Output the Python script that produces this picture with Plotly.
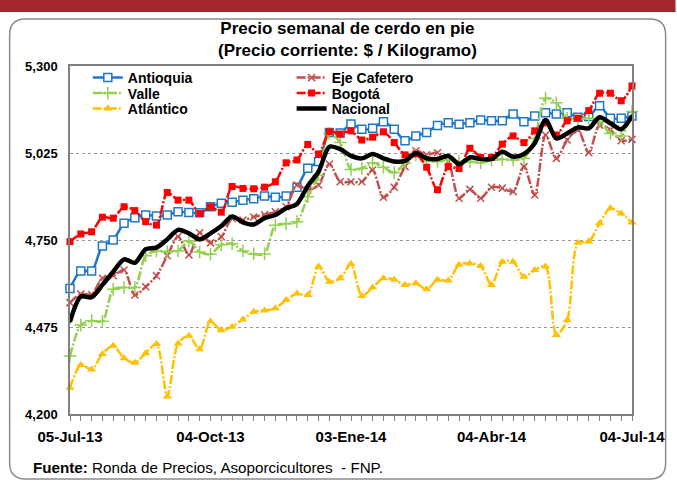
import plotly.graph_objects as go
import pandas as pd

weeks = pd.date_range("2013-07-05", periods=53, freq="7D")

antioquia = [4597, 4652, 4652, 4731, 4750, 4803, 4820, 4829, 4826, 4829, 4839, 4837, 4836, 4855,
             4866, 4869, 4876, 4880, 4889, 4885, 4889, 4917, 4977, 4998, 5090, 5088, 5117, 5100,
             5103, 5124, 5100, 5064, 5079, 5090, 5112, 5121, 5116, 5121, 5129, 5127, 5127, 5148,
             5124, 5142, 5152, 5148, 5152, 5138, 5140, 5174, 5135, 5135, 5142]
eje_cafetero = [4552, 4579, 4578, 4629, 4637, 4655, 4576, 4602, 4637, 4700, 4761, 4703, 4773, 4741,
                4760, 4818, 4813, 4823, 4830, 4839, 4855, 4924, 4908, 4924, 4990, 4934, 4934, 4934,
                4971, 4885, 4917, 4982, 5032, 5019, 5026, 4998, 4882, 4910, 4882, 4917, 4914, 4903,
                4982, 4892, 5082, 5008, 5066, 5098, 5026, 5113, 5098, 5064, 5068]
valle = [4383, 4481, 4495, 4493, 4594, 4600, 4600, 4700, 4715, 4713, 4716, 4747, 4712, 4705,
         4735, 4738, 4715, 4706, 4706, 4797, 4801, 4808, 4887, 4955, 5087, 5058, 4973, 4976,
         4994, 4980, 4963, 4994, 5019, 5000, 4998, 5003, 4998, 4998, 4994, 5003, 5005, 5003,
         5008, 5071, 5198, 5184, 5135, 5132, 5135, 5124, 5087, 5079, 5156]
bogota = [4745, 4769, 4776, 4822, 4819, 4855, 4843, 4808, 4797, 4900, 4876, 4876, 4834, 4855,
          4838, 4919, 4913, 4912, 4917, 4934, 4994, 5003, 5052, 5022, 5092, 5085, 5095, 5066,
          5075, 5092, 5058, 5019, 5022, 4980, 4909, 4982, 4976, 5040, 5011, 5011, 5053, 5079,
          5058, 5095, 5120, 5082, 5127, 5135, 5159, 5214, 5214, 5190, 5237]
atlantico = [4283, 4355, 4341, 4390, 4416, 4376, 4362, 4392, 4421, 4255, 4423, 4447, 4405, 4492,
             4465, 4476, 4499, 4523, 4527, 4534, 4560, 4581, 4576, 4666, 4618, 4629, 4674, 4573,
             4600, 4629, 4624, 4608, 4613, 4594, 4624, 4622, 4672, 4676, 4668, 4608, 4681, 4681,
             4634, 4655, 4666, 4450, 4497, 4741, 4745, 4803, 4850, 4834, 4805]
nacional = [4492, 4571, 4569, 4608, 4650, 4689, 4678, 4721, 4726, 4752, 4782, 4771, 4752, 4771,
            4794, 4824, 4806, 4799, 4819, 4829, 4850, 4864, 4921, 4966, 5045, 5037, 5016, 5008,
            5022, 5008, 4998, 5000, 5024, 5008, 5006, 5016, 4990, 5011, 5006, 5006, 5029, 5013,
            5022, 5056, 5129, 5071, 5087, 5106, 5103, 5138, 5119, 5100, 5142]

y_ticks = [4200, 4475, 4750, 5025, 5300]
x_tick_dates = ["2013-07-05", "2013-10-04", "2014-01-03", "2014-04-04", "2014-07-04"]
x_tick_labels = ["05-Jul-13", "04-Oct-13", "03-Ene-14", "04-Abr-14", "04-Jul-14"]

FONT = "Liberation Sans, Arial, sans-serif"
DASH = "9px,2px,2px,2px"
SMOOTH = 0.8

W, H = 677, 483
L, R, T, B = 70, 39, 66, 69
PW, PH = W - L - R, H - T - B


def px(xp):
    return (xp - L) / PW


def py(yp):
    return (H - B - yp) / PH


fig = go.Figure()

COL1, COL2 = 88, 294
ROWS = [62, 77.5, 93]

series = [
    dict(name="Antioquia", y=antioquia, color="#1F77C8", dash="solid", width=2.5,
         marker=dict(symbol="square", size=8, color="white", line=dict(color="#1F77C8", width=1.5)),
         legend="legend", pos=(COL1, ROWS[0])),
    dict(name="Eje Cafetero", y=eje_cafetero, color="#C0504D", dash=DASH, width=2.5,
         marker=dict(symbol="x-thin", size=7, color="#C0504D", line=dict(color="#C0504D", width=1.5)),
         legend="legend2", pos=(COL2, ROWS[0])),
    dict(name="Valle", y=valle, color="#92D050", dash=DASH, width=2.5,
         marker=dict(symbol="cross-thin", size=9, color="#92D050", line=dict(color="#92D050", width=1.5)),
         legend="legend3", pos=(COL1, ROWS[1])),
    dict(name="Bogotá", y=bogota, color="#FF0000", dash=DASH, width=2.5,
         marker=dict(symbol="square", size=7, color="#FF0000", line=dict(width=0)),
         legend="legend4", pos=(COL2, ROWS[1])),
    dict(name="Atlántico", y=atlantico, color="#FFC000", dash=DASH, width=2.5,
         marker=dict(symbol="triangle-up", size=8, color="#FFC000", line=dict(width=0)),
         legend="legend5", pos=(COL1, ROWS[2])),
]

for s in series:
    fig.add_trace(go.Scatter(
        x=weeks, y=s["y"], name=s["name"], mode="lines+markers",
        line=dict(color=s["color"], width=s["width"], dash=s["dash"], shape="spline", smoothing=SMOOTH),
        marker=s["marker"], cliponaxis=False, legend=s["legend"],
    ))

fig.add_trace(go.Scatter(
    x=weeks, y=nacional, name="Nacional", mode="lines+markers",
    line=dict(color="black", width=4.5, shape="spline", smoothing=SMOOTH),
    marker=dict(symbol="diamond", size=3, color="black"),
    cliponaxis=False, legend="legend6",
))

legend_common = dict(
    font=dict(family=FONT, size=14, color="black", weight="bold"),
    bgcolor="rgba(0,0,0,0)", borderwidth=0, tracegroupgap=0,
    xanchor="left", yanchor="top", itemwidth=30,
)
legend_layout = {}
for s in series + [dict(legend="legend6", pos=(COL2, ROWS[2]))]:
    lx, ly = s["pos"]
    legend_layout[s["legend"]] = dict(x=px(lx), y=py(ly), **legend_common)
fig.update_layout(**legend_layout)

fig.update_xaxes(
    type="date",
    range=["2013-07-05", "2014-07-04"],
    tickvals=x_tick_dates, ticktext=x_tick_labels,
    ticks="outside", ticklen=5, tickcolor="#808080", ticklabelstandoff=3,
    tickfont=dict(family=FONT, size=15, color="black", weight="bold"),
    showline=True, linecolor="#808080", linewidth=1.5, mirror=True,
    showgrid=False, zeroline=False,
    minor=dict(dtick=7 * 86400000, tick0="2013-07-05", ticks="outside", ticklen=5,
               tickcolor="#808080", showgrid=False),
)
fig.update_yaxes(
    range=[4200, 5300], tickvals=y_ticks, tickformat=",d",
    ticks="", ticklabelstandoff=8,
    tickfont=dict(family=FONT, size=13, color="black", weight="bold"),
    showline=True, linecolor="#808080", linewidth=1.5, mirror=True,
    showgrid=True, gridcolor="#9A9A9A", griddash="dot", gridwidth=1,
    zeroline=False,
)

# Outer rounded frame
x0, x1, y0, y1, r = 9, 672, 19, 479, 16
path = (
    f"M {px(x0 + r)} {py(y0)} L {px(x1 - r)} {py(y0)} "
    f"Q {px(x1)} {py(y0)} {px(x1)} {py(y0 + r)} "
    f"L {px(x1)} {py(y1 - r)} Q {px(x1)} {py(y1)} {px(x1 - r)} {py(y1)} "
    f"L {px(x0 + r)} {py(y1)} Q {px(x0)} {py(y1)} {px(x0)} {py(y1 - r)} "
    f"L {px(x0)} {py(y0 + r)} Q {px(x0)} {py(y0)} {px(x0 + r)} {py(y0)} Z"
)
fig.add_shape(type="path", path=path, xref="paper", yref="paper",
              line=dict(color="#8C8C8C", width=1.5), layer="below")
# Top header band
fig.add_shape(type="rect", xref="paper", yref="paper",
              x0=px(-5), x1=px(W + 5), y0=py(12), y1=py(-5),
              fillcolor="#A5262C", line=dict(width=0), layer="below")

fig.add_annotation(
    x=px(350), y=py(17), xref="paper", yref="paper", xanchor="center", yanchor="top",
    text="<b>Precio semanal de cerdo en pie</b><br><b>(Precio corriente: $ / Kilogramo)</b>",
    showarrow=False, align="center",
    font=dict(family=FONT, size=17, color="black"),
)
fig.add_annotation(
    x=px(31), y=py(467), xref="paper", yref="paper", xanchor="left", yanchor="middle",
    text="<b>Fuente:</b> Ronda de Precios, Asoporcicultores  - FNP.",
    showarrow=False, align="left",
    font=dict(family=FONT, size=15.2, color="black"),
)

fig.update_layout(
    width=W, height=H,
    margin=dict(l=L, r=R, t=T, b=B),
    paper_bgcolor="white", plot_bgcolor="white",
    font=dict(family=FONT),
    showlegend=True,
)

fig.write_html("out.html", config={"displayModeBar": False},
               post_script="document.body.style.margin='0';")
